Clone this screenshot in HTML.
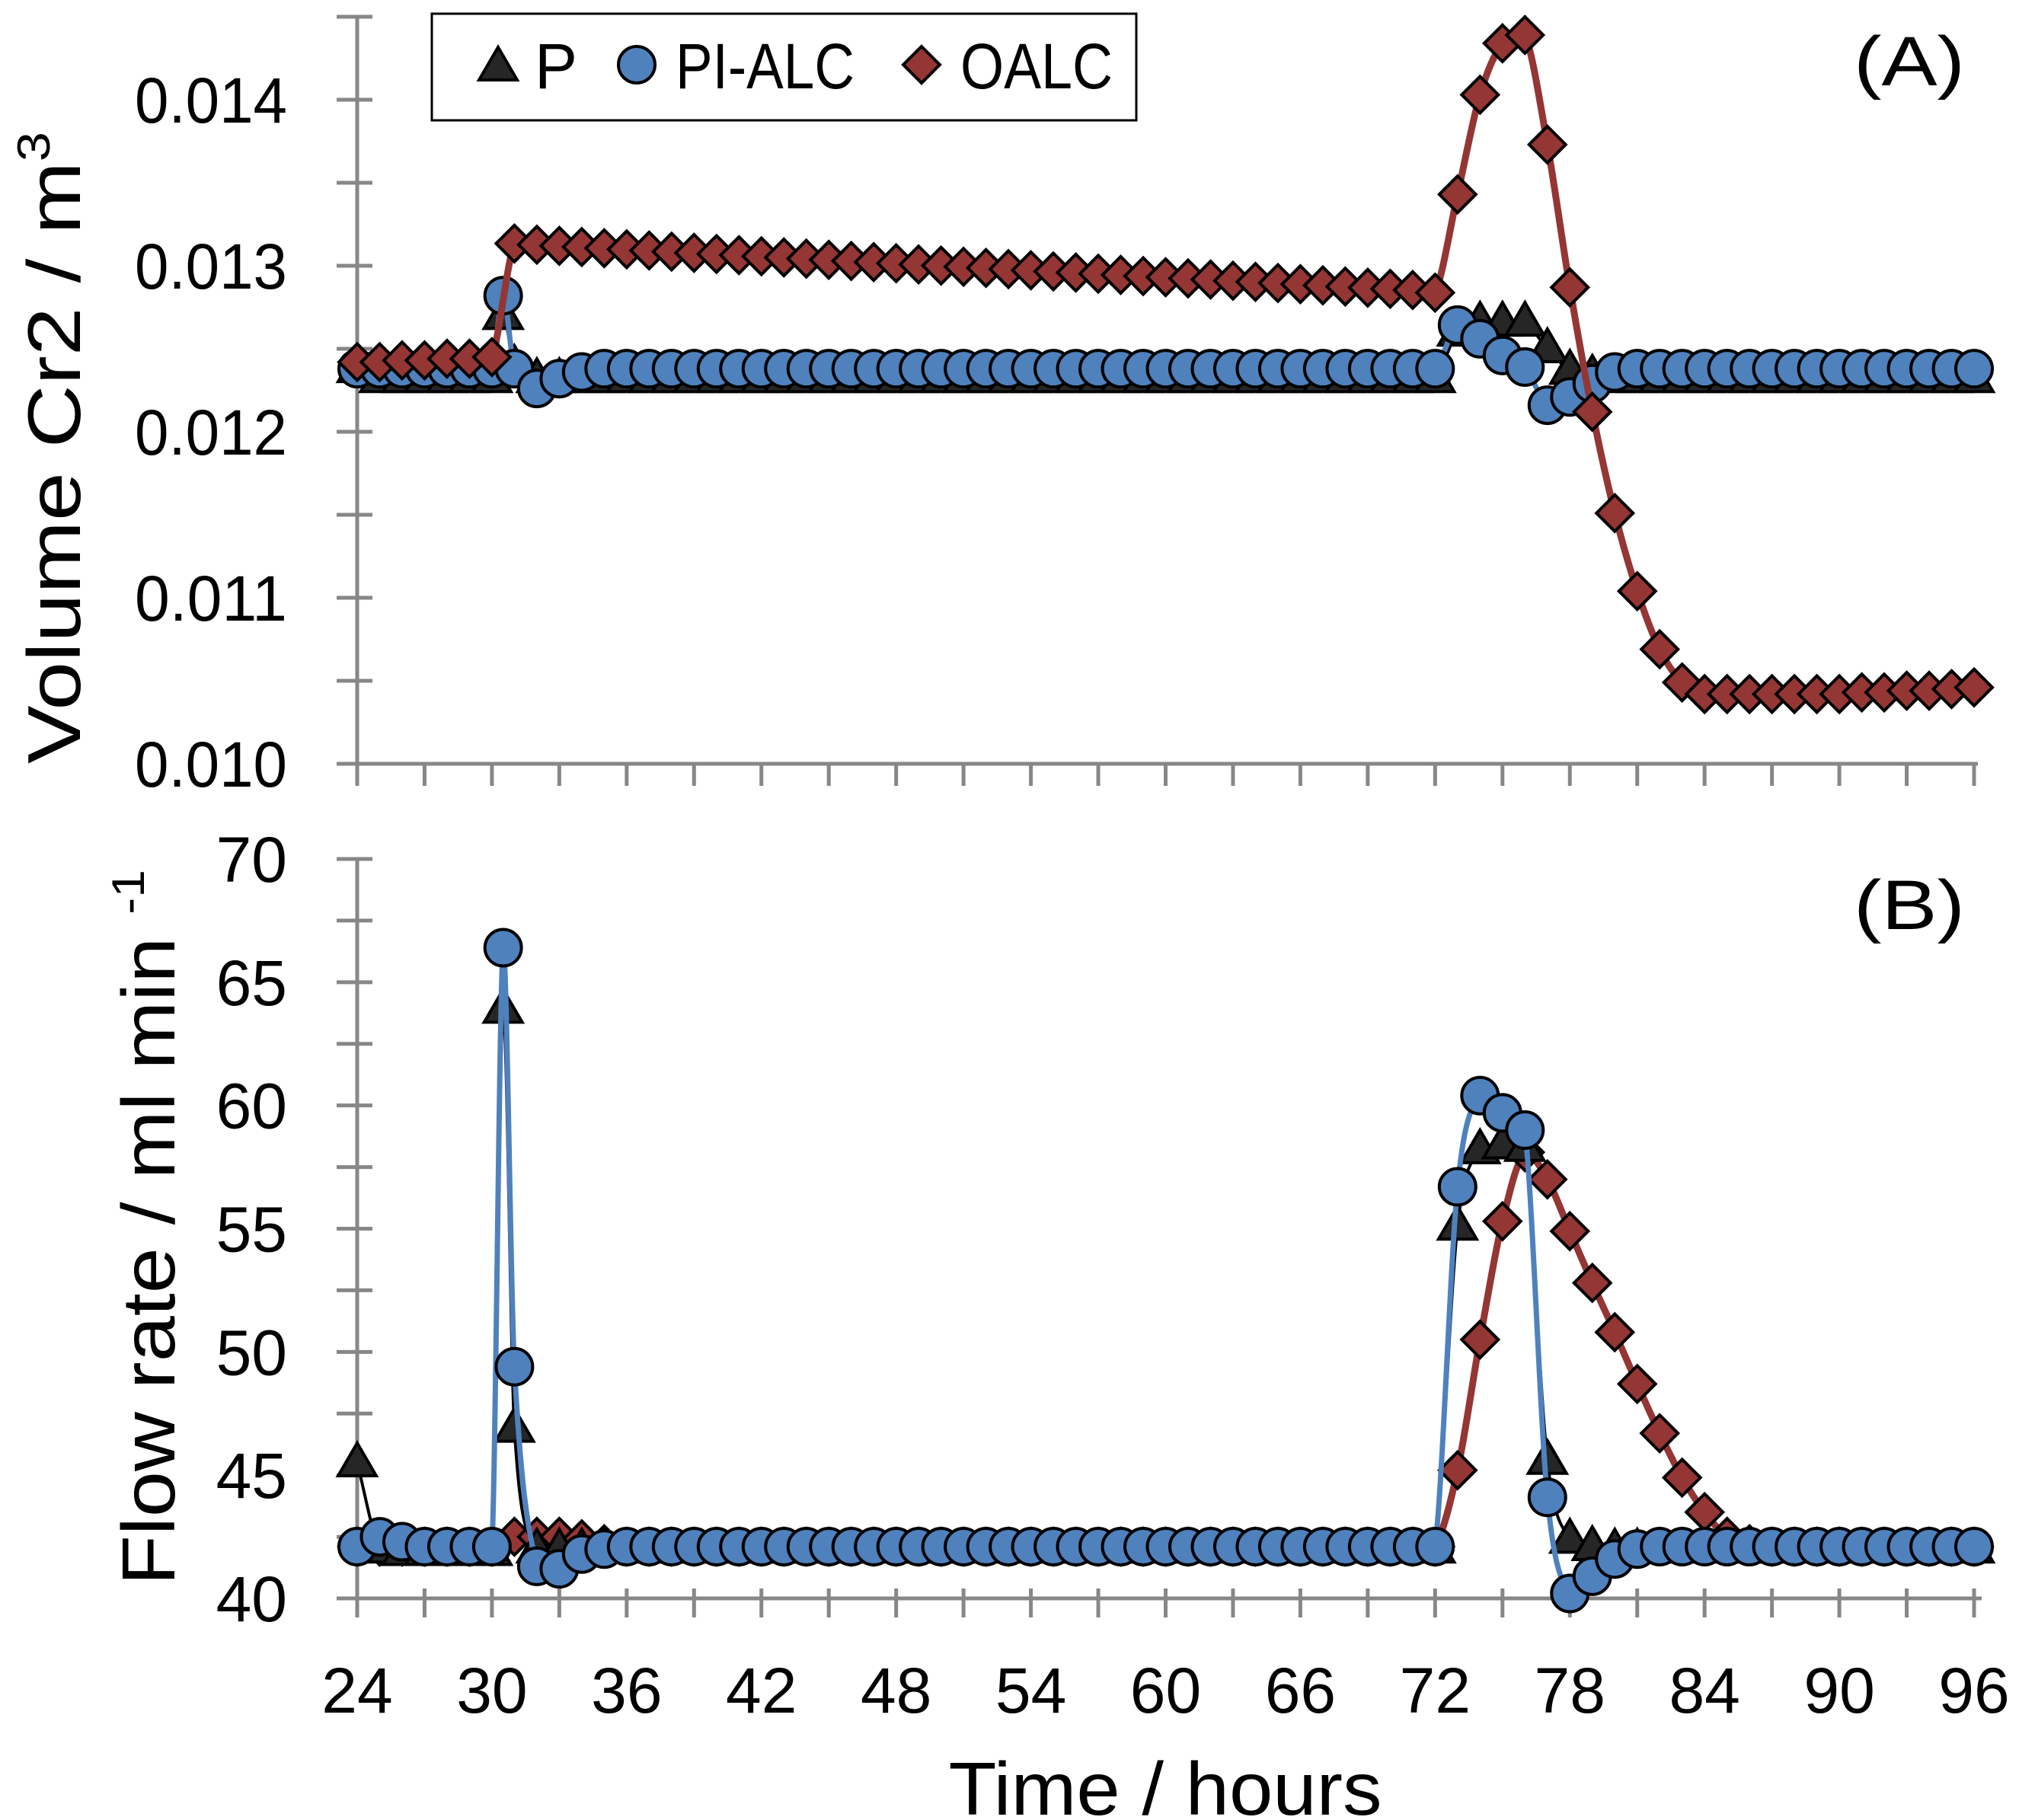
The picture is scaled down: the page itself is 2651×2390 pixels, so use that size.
<!DOCTYPE html>
<html><head><meta charset="utf-8">
<style>
html,body{margin:0;padding:0;background:#fff;}
svg{display:block;}
text{font-family:"Liberation Sans",sans-serif;fill:#000;}
</style></head>
<body>
<svg id="chart" width="2651" height="2390" viewBox="0 0 2651 2390" xmlns="http://www.w3.org/2000/svg">
<g id="axes"></g>
<g id="series"></g>
<g id="labels"></g>
</svg>
<script>
// ---- data ----
const hoursA = [24,25,26,27,28,29,30,30.5,31,32,33,34,35,36,37,38,39,40,41,42,43,44,45,46,47,48,49,50,51,52,53,54,55,56,57,58,59,60,61,62,63,64,65,66,67,68,69,70,71,72,73,74,75,76,77,78,79,80,81,82,83,84,85,86,87,88,89,90,91,92,93,94,95,96];
const pVolume = [0.01238,0.01232,0.01232,0.01232,0.01232,0.01232,0.01232,0.0127,0.0124,0.01232,0.01232,0.01232,0.01232,0.01232,0.01232,0.01232,0.01232,0.01232,0.01232,0.01232,0.01232,0.01232,0.01232,0.01232,0.01232,0.01232,0.01232,0.01232,0.01232,0.01232,0.01232,0.01232,0.01232,0.01232,0.01232,0.01232,0.01232,0.01232,0.01232,0.01232,0.01232,0.01232,0.01232,0.01232,0.01232,0.01232,0.01232,0.01232,0.01232,0.01232,0.0126,0.01266,0.01266,0.01266,0.0125,0.01237,0.01234,0.01232,0.01232,0.01232,0.01232,0.01232,0.01232,0.01232,0.01232,0.01232,0.01232,0.01232,0.01232,0.01232,0.01232,0.01232,0.01232,0.01232];
const piVolume = [0.01238,0.01238,0.01238,0.01238,0.01238,0.01238,0.01238,0.01282,0.01238,0.012261,0.01232,0.01236,0.01238,0.01238,0.01238,0.01238,0.01238,0.01238,0.01238,0.01238,0.01238,0.01238,0.01238,0.01238,0.01238,0.01238,0.01238,0.01238,0.01238,0.01238,0.01238,0.01238,0.01238,0.01238,0.01238,0.01238,0.01238,0.01238,0.01238,0.01238,0.01238,0.01238,0.01238,0.01238,0.01238,0.01238,0.01238,0.01238,0.01238,0.01238,0.012643,0.01256,0.01246,0.01239,0.01216,0.01221,0.01229,0.01236,0.01238,0.01238,0.01238,0.01238,0.01238,0.01238,0.01238,0.01238,0.01238,0.01238,0.01238,0.01238,0.01238,0.01238,0.01238,0.01238];
const hoursOA = [24,25,26,27,28,29,30,31,32,33,34,35,36,37,38,39,40,41,42,43,44,45,46,47,48,49,50,51,52,53,54,55,56,57,58,59,60,61,62,63,64,65,66,67,68,69,70,71,72,73,74,75,76,77,78,79,80,81,82,83,84,85,86,87,88,89,90,91,92,93,94,95,96];
const oalcVolume = [0.01242,0.01242,0.01243,0.01243,0.01244,0.01244,0.01245,0.013134,0.013127,0.013120,0.013113,0.013106,0.013099,0.013092,0.013085,0.013078,0.013071,0.013064,0.013057,0.013050,0.013043,0.013036,0.013029,0.013022,0.013015,0.013008,0.013001,0.012994,0.012987,0.012980,0.012973,0.012966,0.012959,0.012952,0.012945,0.012938,0.012931,0.012924,0.012917,0.012910,0.012903,0.012896,0.012889,0.012882,0.012875,0.012868,0.012861,0.012854,0.012838,0.01343,0.01403,0.01434,0.01439,0.01373,0.01287,0.01212,0.01151,0.01104,0.01069,0.01049,0.01042,0.01042,0.01042,0.01042,0.01042,0.01042,0.01042,0.01043,0.01043,0.01044,0.01044,0.01045,0.01046];
const hoursB = hoursA;
const pFlow = [45.5,42.0,41.9,41.9,41.9,41.9,41.9,63.9,46.9,42.0,42.0,42.0,42.0,42.0,42.0,42.0,42.0,42.0,42.0,42.0,42.0,42.0,42.0,42.0,42.0,42.0,42.0,42.0,42.0,42.0,42.0,42.0,42.0,42.0,42.0,42.0,42.0,42.0,42.0,42.0,42.0,42.0,42.0,42.0,42.0,42.0,42.0,42.0,42.0,42.0,55.1,58.2,58.4,58.3,45.6,42.4,42.1,42.0,42.0,42.0,42.0,42.0,42.0,42.0,42.0,42.0,42.0,42.0,42.0,42.0,42.0,42.0,42.0,42.0];
const piFlow = [42.1,42.5,42.3,42.1,42.1,42.1,42.1,66.4,49.4,41.3,41.2,41.8,42.0,42.1,42.1,42.1,42.1,42.1,42.1,42.1,42.1,42.1,42.1,42.1,42.1,42.1,42.1,42.1,42.1,42.1,42.1,42.1,42.1,42.1,42.1,42.1,42.1,42.1,42.1,42.1,42.1,42.1,42.1,42.1,42.1,42.1,42.1,42.1,42.1,42.1,56.7,60.4,59.7,59.0,44.1,40.2,40.9,41.6,42.0,42.1,42.1,42.1,42.1,42.1,42.1,42.1,42.1,42.1,42.1,42.1,42.1,42.1,42.1,42.1];
const oalcFlow = [42.1,42.1,42.1,42.1,42.1,42.1,42.1,42.5,42.5,42.5,42.4,42.2,42.1,42.1,42.1,42.1,42.1,42.1,42.1,42.1,42.1,42.1,42.1,42.1,42.1,42.1,42.1,42.1,42.1,42.1,42.1,42.1,42.1,42.1,42.1,42.1,42.1,42.1,42.1,42.1,42.1,42.1,42.1,42.1,42.1,42.1,42.1,42.1,42.1,45.2,50.5,55.3,58.1,57.0,54.9,52.8,50.8,48.7,46.7,44.9,43.5,42.5,42.2,42.1,42.1,42.1,42.1,42.1,42.1,42.1,42.1,42.1,42.1];
const xTickLabels = ["24","30","36","42","48","54","60","66","72","78","84","90","96"];
const yTickLabelsA = ["0.010","0.011","0.012","0.013","0.014"];
const yTickLabelsB = ["40","45","50","55","60","65","70"];

// ---- scales ----
const X0=469, X1=2592;
const sx = h => X0 + (h-24)/(96-24)*(X1-X0);
const syA = v => 1003 - (v-0.010)/0.001*218;
const syB = v => 2099 - (v-40)/30*971;
const NS="http://www.w3.org/2000/svg";
function mk(tag, attrs, parent, txt){
  const e=document.createElementNS(NS,tag);
  for(const k in attrs) e.setAttribute(k,attrs[k]);
  if(txt!==undefined) e.textContent=txt;
  parent.appendChild(e); return e;
}
const axes=document.getElementById('axes');
const ser=document.getElementById('series');
const lab=document.getElementById('labels');
const G='#878787';

let l;
l=mk('line',{x1:X0,y1:20,x2:X0,y2:1003,stroke:G,'stroke-width':5},axes);
 
l=mk('line',{x1:X0-27,y1:1003,x2:X1+5,y2:1003,stroke:G,'stroke-width':5},axes);
 
for(let i=0;i<=9;i++){
  const y=syA(0.010+i*0.0005);
  l=mk('line',{x1:X0-27,y1:y,x2:X0+20,y2:y,stroke:G,'stroke-width':5},axes);
   
}
for(let h=24;h<=96;h+=3){
  l=mk('line',{x1:sx(h),y1:1003,x2:sx(h),y2:1032,stroke:G,'stroke-width':5},axes);
   
}
yTickLabelsA.forEach((t,i)=>{
  const e=mk('text',{x:377,y:syA(0.010+i*0.001)+30,'text-anchor':'end','font-size':84,textLength:200,lengthAdjust:'spacingAndGlyphs'},lab,t);
   
});
l=mk('line',{x1:X0,y1:1128,x2:X0,y2:2099,stroke:G,'stroke-width':5},axes);
 
l=mk('line',{x1:X0-27,y1:2099,x2:X1+10,y2:2099,stroke:G,'stroke-width':5},axes);
 
for(let i=0;i<=12;i++){
  const y=syB(40+i*2.5);
  l=mk('line',{x1:X0-27,y1:y,x2:X0+20,y2:y,stroke:G,'stroke-width':5},axes);
   
}
for(let h=24;h<=96;h+=3){
  l=mk('line',{x1:sx(h),y1:2086,x2:sx(h),y2:2124,stroke:G,'stroke-width':5},axes);
   
}
yTickLabelsB.forEach((t,i)=>{
  const e=mk('text',{x:377,y:syB(40+i*5)+30,'text-anchor':'end','font-size':84},lab,t);
   
});
xTickLabels.forEach((t,i)=>{
  const e=mk('text',{x:sx(24+i*6),y:2249,'text-anchor':'middle','font-size':84},lab,t);
   
});

// smooth path (Catmull-Rom with clamped control points, non-uniform spacing)
function smooth(pts){
  let d='M'+pts[0][0]+','+pts[0][1];
  for(let i=0;i<pts.length-1;i++){
    const p0=pts[Math.max(0,i-1)],p1=pts[i],p2=pts[i+1],p3=pts[Math.min(pts.length-1,i+2)];
    const dx=p2[0]-p1[0];
    const m1=(p2[1]-p0[1])/Math.max(1e-6,p2[0]-p0[0]);
    const m2=(p3[1]-p1[1])/Math.max(1e-6,p3[0]-p1[0]);
    const lo=Math.min(p1[1],p2[1]), hi=Math.max(p1[1],p2[1]);
    const cl=v=>Math.min(hi,Math.max(lo,v));
    const c1=[p1[0]+dx/3, cl(p1[1]+m1*dx/3)];
    const c2=[p2[0]-dx/3, cl(p2[1]-m2*dx/3)];
    d+=' C'+c1[0]+','+c1[1]+' '+c2[0]+','+c2[1]+' '+p2[0]+','+p2[1];
  }
  return d;
}
function drawLine(xs,vs,sy,color,w,name){
  const pts=xs.map((h,i)=>[sx(h),sy(vs[i])]);
  const p=mk('path',{d:smooth(pts),fill:'none',stroke:color,'stroke-width':w},ser);
   
}
function tri(x,y,g,name){
  const e=mk('polygon',{points:`${x},${y-26} ${x-25},${y+17} ${x+25},${y+17}`,fill:'#262626',stroke:'#000','stroke-width':4},g);
   
}
function circ(x,y,g,name){
  const e=mk('circle',{cx:x,cy:y,r:24,fill:'#4F81BD',stroke:'#000','stroke-width':4},g);
   
}
function dia(x,y,g,name){
  const e=mk('polygon',{points:`${x},${y-24} ${x+24},${y} ${x},${y+24} ${x-24},${y}`,fill:'#943634',stroke:'#000','stroke-width':4},g);
   
}
function drawP(sy,pv,px,tag){
  drawLine(px,pv,sy,'#000',4,'p-line-'+tag);
  px.forEach((h,i)=>tri(sx(h),sy(pv[i]),ser,'p-point-'+tag));
}
function drawPI(sy,piv,pix,tag){
  drawLine(pix,piv,sy,'#4F81BD',7,'pi-alc-line-'+tag);
  pix.forEach((h,i)=>circ(sx(h),sy(piv[i]),ser,'pi-alc-point-'+tag));
}
function drawO(sy,ov,ox,tag){
  drawLine(ox,ov,sy,'#943634',9,'oalc-line-'+tag);
  ox.forEach((h,i)=>dia(sx(h),sy(ov[i]),ser,'oalc-point-'+tag));
}
// panel A: P, PI-ALC, OALC (OALC on top)
drawP(syA,pVolume,hoursA,'a');
drawPI(syA,piVolume,hoursA,'a');
drawO(syA,oalcVolume,hoursOA,'a');
// panel B: OALC below, then P, PI-ALC
drawO(syB,oalcFlow,hoursOA,'b');
drawP(syB,pFlow,hoursB,'b');
drawPI(syB,piFlow,hoursB,'b');

// titles
let t;
t=mk('text',{x:0,y:0,'font-size':98,transform:'translate(105,1003) rotate(-90)',textLength:830,lengthAdjust:'spacingAndGlyphs'},lab);
t.innerHTML='Volume Cr2 / m<tspan font-size="60" dy="-40">3</tspan>';
 
t=mk('text',{x:0,y:0,'font-size':98,transform:'translate(229,2082) rotate(-90)',textLength:940,lengthAdjust:'spacingAndGlyphs'},lab);
t.innerHTML='Flow rate / ml min <tspan font-size="60" dy="-40">-1</tspan>';
 
t=mk('text',{x:1530,y:2383,'font-size':98,'text-anchor':'middle',textLength:569,lengthAdjust:'spacingAndGlyphs'},lab,'Time / hours');
 
t=mk('text',{x:2434,y:112,'font-size':92,textLength:146,lengthAdjust:'spacingAndGlyphs'},lab,'(A)');
 
t=mk('text',{x:2434,y:1220,'font-size':92,textLength:146,lengthAdjust:'spacingAndGlyphs'},lab,'(B)');
 

// legend
const lg=mk('g',{},lab);
 
const box=mk('rect',{x:567,y:18,width:925,height:140,fill:'#fff',stroke:'#000','stroke-width':3},lg);
 
tri(654,88,lg,'legend-p-marker');
t=mk('text',{x:702,y:116,'font-size':84},lg,'P');
 
circ(836,85,lg,'legend-pi-alc-marker');
t=mk('text',{x:887,y:116,'font-size':84,textLength:235,lengthAdjust:'spacingAndGlyphs'},lg,'PI-ALC');
 
dia(1210,85,lg,'legend-oalc-marker');
t=mk('text',{x:1261,y:116,'font-size':84,textLength:200,lengthAdjust:'spacingAndGlyphs'},lg,'OALC');
 
</script>
</body></html>
